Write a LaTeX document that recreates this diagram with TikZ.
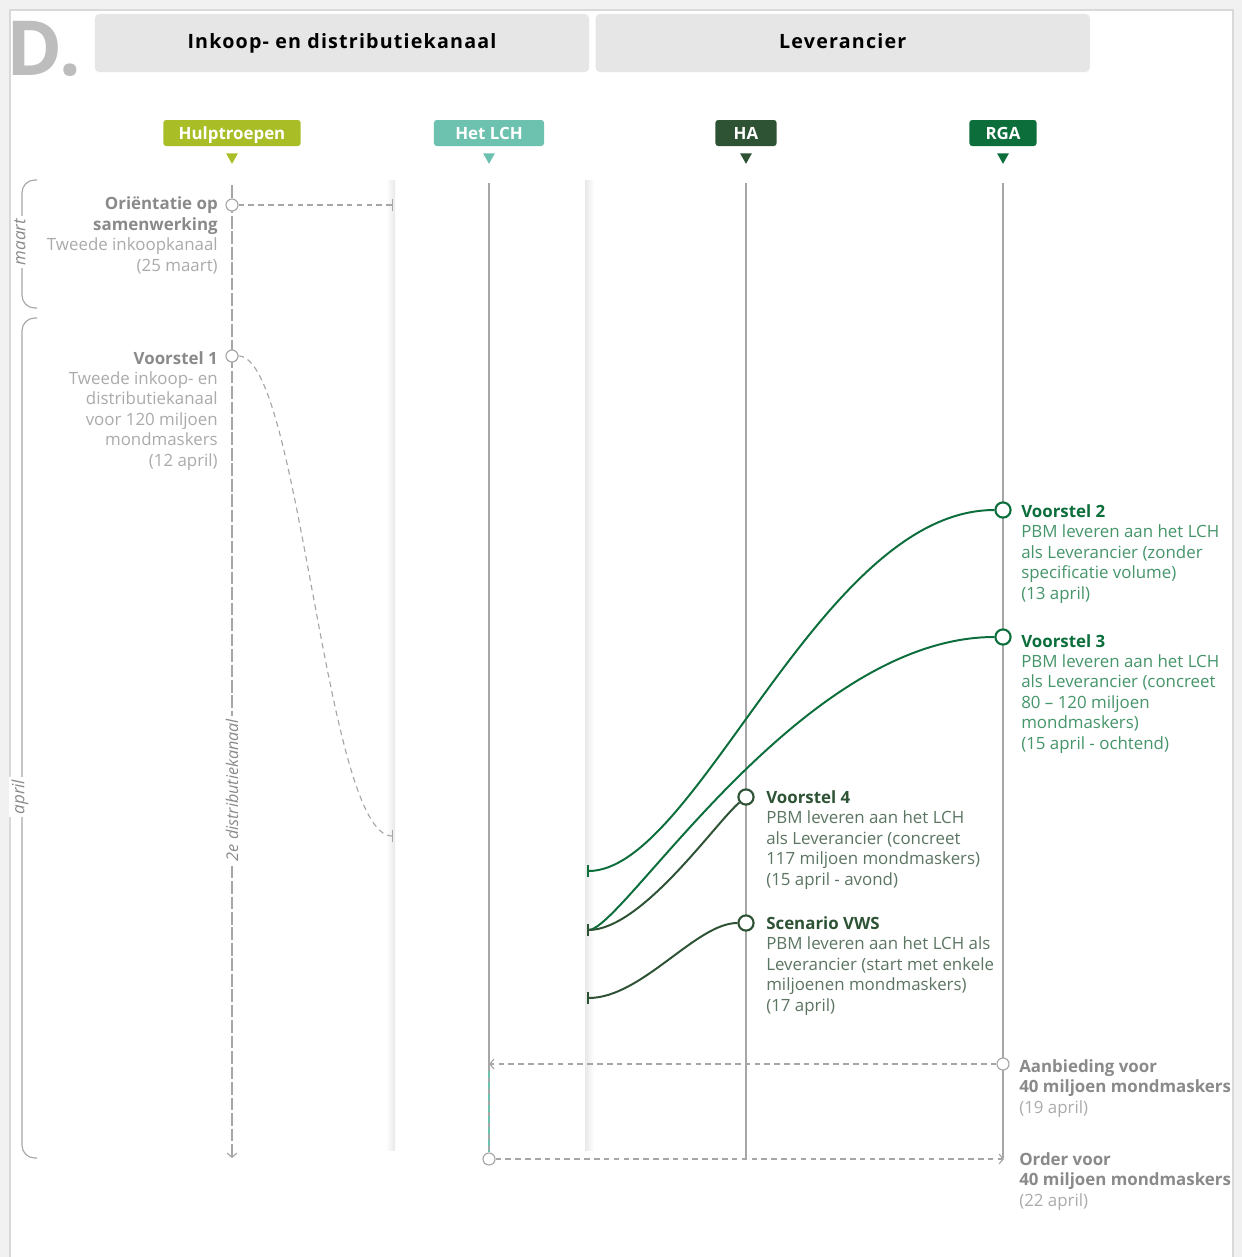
\documentclass[tikz,border=0pt]{standalone}
\usepackage{fontspec}
\setmainfont{Open Sans}
\newfontfamily\headfont[LetterSpace=6]{Open Sans}
\usepackage{tikz}
\usetikzlibrary{positioning}
\usetikzlibrary{arrows.meta}

\definecolor{pagegray}{HTML}{F1F1F1}
\definecolor{framegray}{HTML}{D9D9D9}
\definecolor{headgray}{HTML}{E6E6E6}
\definecolor{bigdgray}{HTML}{BDBDBD}
\definecolor{hulpgreen}{HTML}{A9BD26}
\definecolor{lchteal}{HTML}{6DC1AF}
\definecolor{hagreen}{HTML}{2D5234}
\definecolor{rgagreen}{HTML}{0B6E3B}
\definecolor{linegray}{HTML}{A6A6A6}
\definecolor{titlegray}{HTML}{8A8A8A}
\definecolor{bodygray}{HTML}{ABABAB}
\definecolor{rgabody}{HTML}{46956A}
\definecolor{habody}{HTML}{5C7562}

\begin{document}
\begin{tikzpicture}[
        x=0.025cm,
        y=-0.025cm,
        header/.style={
            rectangle,
            fill=headgray,
            rounded corners=3pt,
            minimum width=12.35cm,
            minimum height=1.45cm,
            text height=10.5pt,
            text depth=3pt,
            font=\fontsize{14}{16}\headfont\bfseries
        },
        lane/.style={
            rectangle,
            fill=#1,
            rounded corners=2pt,
            minimum height=0.65cm,
            inner ysep=0pt,
            text height=11.6pt,
            text depth=3pt,
            text=white,
            font=\fontsize{12}{14}\selectfont\bfseries
        },
        life/.style={
            draw=linegray,
            line width=0.8pt
        },
        gdash/.style={
            draw=linegray,
            line width=0.8pt,
            dash pattern=on 4pt off 3pt
        },
        gcurve/.style={
            draw=#1,
            line width=1.4pt,
            {Bar[width=9pt]}-
        },
        dot/.style={
            circle,
            draw=linegray,
            fill=white,
            line width=0.8pt,
            minimum size=0.3cm,
            inner sep=0pt
        },
        gdot/.style={
            circle,
            draw=#1,
            fill=white,
            line width=1.5pt,
            minimum size=0.38cm,
            inner sep=0pt
        },
        lefttext/.style={
            inner sep=0pt,
            anchor=base east,
            align=right,
            text=bodygray,
            font=\fontsize{12}{14.5}\selectfont
        },
        righttext/.style={
            inner sep=0pt,
            anchor=base west,
            align=left,
            text=#1,
            font=\fontsize{12}{14.5}\selectfont
        },
        month/.style={
            rotate=90,
            fill=white,
            inner sep=2pt,
            text=titlegray,
            font=\fontsize{12}{14}\selectfont\itshape
        }
    ]

    % Frame
    \useasboundingbox (0,0) rectangle (1242,1257);
    \fill[pagegray] (0,0) rectangle (1242,1257);
    \filldraw[fill=white, draw=framegray, line width=0.8pt] (10,10) rectangle (1233,1270);

    % Headers
    \node[inner sep=0pt, anchor=base west, text=bigdgray, font=\fontsize{54}{54}\selectfont\bfseries] (letter) at (6,75) {D.};
    \node[header] (inkoop) at (342,43) {Inkoop- en distributiekanaal};
    \node[header, right=4.3pt of inkoop] (leverancier) {Leverancier};

    % Lanes
    \node[lane=hulpgreen, minimum width=3.43cm] (hulp) at (232,133) {Hulptroepen};
    \node[lane=lchteal, minimum width=2.75cm] (lch) at (489,133) {Het LCH};
    \node[lane=hagreen, minimum width=1.53cm] (ha) at (746,133) {HA};
    \node[lane=rgagreen, minimum width=1.68cm] (rga) at (1003,133) {RGA};
    \foreach \l/\c in {hulp/hulpgreen, lch/lchteal, ha/hagreen, rga/rgagreen}
        \fill[\c] ([yshift=-5pt]\l.south) ++(-4.2pt,0) -- ++(8.4pt,0) -- ++(-4.2pt,-7.5pt) -- cycle;

    % Months
    \draw[life, rounded corners=9pt] (37,180) -- (22,180) -- (22,308) -- (37,308);
    \draw[life, rounded corners=9pt] (37,318) -- (22,318) -- (22,1158) -- (37,1158);
    \node[month] (maart) at (20,242) {maart};
    \node[month] (april) at (20,797) {april};

    % Panel shadow
    \shade[left color=white, right color=black!9] (386,180) rectangle (395,1150);
    \shade[left color=black!9, right color=white] (585,180) rectangle (594,1150);

    % Lifelines
    \coordinate (hulptop) at (232,185);
    \coordinate (hulpend) at (232,1158);
    \coordinate (lchtop) at (489,183);
    \coordinate (hatop) at (746,183);
    \coordinate (haend) at (746,1158);
    \coordinate (rgatop) at (1003,183);
    \coordinate (rgaend) at (1003,1158);
    \draw[life, dash pattern=on 9pt off 2pt, -{Straight Barb[length=3pt, width=7pt]}] (hulptop) -- (hulpend);
    \draw[life] (hatop) -- (haend);
    \draw[life] (rgatop) -- (rgaend);

    % Events
    \node[dot] (orient) at (232,205) {};
    \node[dot] (v1) at (232,356) {};
    \node[gdot=rgagreen] (v2) at (1003,510) {};
    \node[gdot=rgagreen] (v3) at (1003,637) {};
    \node[gdot=hagreen] (v4) at (746,797) {};
    \node[gdot=hagreen] (vws) at (746,923) {};
    \node[dot] (aanbod) at (1003,1064) {};
    \node[dot] (order) at (489,1159) {};
    \draw[life] (lchtop) -- (order);

    \coordinate (orientend) at (393,205);
    \coordinate (v1end) at (393,836);
    \coordinate (tick2) at (587,871);
    \coordinate (tick3) at (587,930);
    \coordinate (tickvws) at (587,998);
    \coordinate (lchin) at (489,1064);

    % Arrows
    \draw[gdash, -{Bar[width=8pt]}] (orient) -- (orientend);
    \draw[gdash, -{Bar[width=8pt]}] (v1) .. controls +(68,0) and +(-68,0) .. (v1end);
    \draw[gcurve=rgagreen] (tick2) .. controls +(110,0) and +(-183,0) .. (v2);
    \draw[gcurve=rgagreen] (tick3) .. controls +(36,0) and +(-203,0) .. (v3);
    \draw[gcurve=hagreen] (tick3) .. controls +(55,0) and +(-30,25) .. (v4);
    \draw[gcurve=hagreen] (tickvws) .. controls +(55,0) and +(-50,0) .. (vws);
    \draw[gdash, -{Straight Barb[length=3pt, width=7pt]}] (aanbod) -- (lchin);
    \draw[lchteal, line width=1.2pt, dash pattern=on 5pt off 3pt] ([yshift=-5pt]lchin) -- (order);
    \draw[gdash, -{Straight Barb[length=3pt, width=7pt]}] (order) -- (1004,1159);

    \node[month, font=\fontsize{11.5}{14}\selectfont\itshape] (kanaal) at (232,790) {2e distributiekanaal};

    % Texts (anchored at the baseline of the last line)
    \node[lefttext] (orienttxt) at (218,271) {{\color{titlegray}\bfseries Oriëntatie op}\\{\color{titlegray}\bfseries samenwerking}\\Tweede inkoopkanaal\\(25 maart)};
    \node[lefttext] (v1txt) at (218,466) {{\color{titlegray}\bfseries Voorstel 1}\\Tweede inkoop- en\\distributiekanaal\\voor 120 miljoen\\mondmaskers\\(12 april)};
    \node[righttext=rgabody] (v2txt) at (1021,599) {{\color{rgagreen}\bfseries Voorstel 2}\\PBM leveren aan het LCH\\als Leverancier (zonder\\specificatie volume)\\(13 april)};
    \node[righttext=rgabody] (v3txt) at (1021,749) {{\color{rgagreen}\bfseries Voorstel 3}\\PBM leveren aan het LCH\\als Leverancier (concreet\\80 – 120 miljoen\\mondmaskers)\\(15 april - ochtend)};
    \node[righttext=habody] (v4txt) at (766,885) {{\color{hagreen}\bfseries Voorstel 4}\\PBM leveren aan het LCH\\als Leverancier (concreet\\117 miljoen mondmaskers)\\(15 april - avond)};
    \node[righttext=habody] (vwstxt) at (766,1011) {{\color{hagreen}\bfseries Scenario VWS}\\PBM leveren aan het LCH als\\Leverancier (start met enkele\\miljoenen mondmaskers)\\(17 april)};
    \node[righttext=bodygray] (aanbodtxt) at (1019,1113) {{\color{titlegray}\bfseries Aanbieding voor}\\{\color{titlegray}\bfseries 40 miljoen mondmaskers}\\(19 april)};
    \node[righttext=bodygray] (ordertxt) at (1019,1206) {{\color{titlegray}\bfseries Order voor}\\{\color{titlegray}\bfseries 40 miljoen mondmaskers}\\(22 april)};

\end{tikzpicture}
\end{document}
